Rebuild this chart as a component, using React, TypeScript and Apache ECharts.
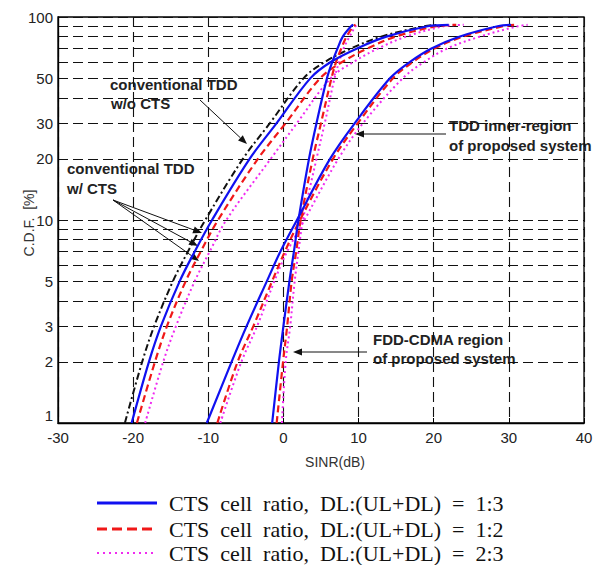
import { useEffect, useRef } from "react";
import * as echarts from "echarts";

// CDF levels (%) at which the SINR (dB) of every curve was read
const CDF_LEVELS = [1, 2, 3, 5, 7, 10, 20, 30, 50, 60, 70, 80, 90, 91.5];

// conventional TDD w/o CTS (black dash-dot)
const CONV_NO_CTS = [-21.1, -18.8, -17.2, -14.7, -12.7, -10.4, -5.4, -1.8, 2.7, 5.5, 9.0, 13.0, 18.7, 20.5];
// conventional TDD w/ CTS
const CONV_13 = [-20.2, -17.9, -16.3, -13.8, -11.8, -9.5, -4.5, -0.9, 3.6, 6.3, 9.8, 13.7, 19.2, 22.0];
const CONV_12 = [-19.5, -17.1, -15.5, -13.0, -11.0, -8.7, -3.4, 0.3, 4.9, 7.8, 11.2, 14.9, 20.3, 23.0];
const CONV_23 = [-18.4, -16.0, -14.3, -11.8, -9.8, -7.6, -1.7, 1.8, 6.3, 9.3, 12.6, 16.3, 21.3, 24.0];
// TDD inner-region of proposed system
const INNER_13 = [-10.2, -6.9, -4.9, -2.2, -0.4, 1.8, 6.2, 9.5, 14.2, 16.8, 19.7, 23.4, 28.5, 30.3];
const INNER_12 = [-8.8, -6.1, -4.0, -1.5, 0.2, 2.2, 6.6, 9.9, 14.6, 17.2, 20.1, 23.9, 29.2, 31.0];
const INNER_23 = [-8.4, -5.6, -3.5, -1.2, 0.5, 2.8, 7.3, 10.6, 15.9, 18.7, 21.8, 26.1, 31.2, 32.5];
// FDD-CDMA region of proposed system
const FDD_13 = [-1.5, -0.6, 0.0, 0.8, 1.4, 2.0, 3.4, 4.4, 5.8, 6.5, 7.2, 7.9, 9.0, 9.3];
const FDD_12 = [-0.9, -0.05, 0.5, 1.1, 1.7, 2.3, 3.9, 5.0, 6.4, 7.0, 7.7, 8.4, 9.3, 9.6];
const FDD_23 = [-0.2, 0.3, 0.9, 1.5, 2.0, 2.6, 4.4, 5.5, 6.8, 7.4, 8.0, 8.8, 9.6, 9.9];

const X_MIN = -30;
const X_MAX = 40;
const X_STEP = 10;
const Y_LABEL_VALUES = [1, 2, 3, 5, 10, 20, 30, 50, 100];
const Y_GRID_VALUES = [1, 2, 3, 4, 5, 6, 7, 8, 9, 10, 20, 30, 40, 50, 60, 70, 80, 90, 100];

const LEGEND_NAMES = [
  "CTS  cell  ratio,  DL:(UL+DL)  =  1:3",
  "CTS  cell  ratio,  DL:(UL+DL)  =  1:2",
  "CTS  cell  ratio,  DL:(UL+DL)  =  2:3",
];

const pairs = (xs: number[]) => xs.map((x, i) => [x, CDF_LEVELS[i]]);

const BLUE = "#1010f0";
const RED = "#f01818";
const MAGENTA = "#f02af0";
const SANS = '"Liberation Sans", Arial, sans-serif';
const SERIF = '"Liberation Serif", "Times New Roman", serif';

function arrow(x1: number, y1: number, x2: number, y2: number) {
  const ang = Math.atan2(y2 - y1, x2 - x1);
  const L = 9;
  const W = 3.5;
  const bx = x2 - L * Math.cos(ang);
  const by = y2 - L * Math.sin(ang);
  const px = -Math.sin(ang) * W;
  const py = Math.cos(ang) * W;
  return [
    { type: "line", shape: { x1, y1, x2: bx, y2: by }, style: { stroke: "#111", lineWidth: 1 }, silent: true },
    {
      type: "polygon",
      shape: { points: [[x2, y2], [bx + px, by + py], [bx - px, by - py]] },
      style: { fill: "#111" },
      silent: true,
    },
  ];
}

function label(text: string, x: number, y: number) {
  return {
    type: "text",
    x,
    y,
    silent: true,
    style: {
      text,
      fill: "#222",
      fontFamily: SANS,
      fontSize: 15,
      fontWeight: "bold",
      align: "left",
      verticalAlign: "middle",
    },
  };
}

export default function App() {
  const ref = useRef<HTMLDivElement>(null);

  useEffect(() => {
    if (!ref.current) return;
    const chart = echarts.init(ref.current, undefined, { renderer: "svg" });

    const styles = [
      { name: LEGEND_NAMES[0], color: BLUE, type: "solid" as any, width: 2.2, lw: 3, ltype: "solid" as any },
      { name: LEGEND_NAMES[1], color: RED, type: [7, 4] as any, width: 2.2, lw: 3, ltype: [10, 5] as any },
      { name: LEGEND_NAMES[2], color: MAGENTA, type: [2, 3] as any, width: 2, lw: 2, ltype: [2, 4] as any },
    ];
    const groups = [
      [CONV_13, CONV_12, CONV_23],
      [INNER_13, INNER_12, INNER_23],
      [FDD_13, FDD_12, FDD_23],
    ];

    const series: any[] = [
      {
        name: "conventional TDD w/o CTS",
        type: "line",
        data: pairs(CONV_NO_CTS),
        smooth: 0.35,
        symbol: "none",
        lineStyle: { color: "#111", width: 2, type: [7, 3, 2, 3] },
        z: 3,
      },
    ];
    groups.forEach((g) => {
      g.forEach((xs, k) => {
        const s = styles[k];
        series.push({
          name: s.name,
          type: "line",
          data: pairs(xs),
          smooth: 0.35,
          symbol: "none",
          itemStyle: { color: s.color },
          lineStyle: { color: s.color, width: s.width, type: s.type },
          z: 4 - k,
        });
      });
    });

    // legend drawn as graphic rows
    const legendItems: any[] = [];
    const rowY = [503, 529, 553];
    styles.forEach((s, i) => {
      legendItems.push({
        type: "line",
        silent: true,
        shape: { x1: 97, y1: rowY[i], x2: 157, y2: rowY[i] },
        style: { stroke: s.color, lineWidth: s.lw, lineDash: s.ltype === "solid" ? null : s.ltype },
      });
      legendItems.push({
        type: "text",
        silent: true,
        x: 169,
        y: rowY[i],
        style: {
          text: s.name,
          fill: "#111",
          fontFamily: SERIF,
          fontSize: 22,
          align: "left",
          verticalAlign: "middle",
        },
      });
    });

    const gridLine = { show: true, lineStyle: { color: "#111", width: 1.1, type: [10, 5] } };

    chart.setOption({
      animation: false,
      backgroundColor: "#fff",
      grid: {
        left: 58,
        right: 12,
        top: 17,
        bottom: 142,
        show: true,
        borderColor: "#000",
        borderWidth: 1.3,
        backgroundColor: "transparent",
      },
      xAxis: {
        type: "value",
        min: X_MIN,
        max: X_MAX,
        interval: X_STEP,
        axisLine: { show: true, onZero: false, lineStyle: { color: "#000", width: 1.3 } },
        axisTick: { show: true, inside: true, length: 5, lineStyle: { color: "#000" } },
        axisLabel: { fontFamily: SANS, fontSize: 15, color: "#222", margin: 7 },
        splitLine: gridLine,
      },
      yAxis: {
        type: "log",
        logBase: 10,
        min: 1,
        max: 100,
        axisLine: { show: true, onZero: false, lineStyle: { color: "#000", width: 1.3 } },
        axisTick: { show: false, customValues: Y_GRID_VALUES },
        axisLabel: {
          fontFamily: SANS,
          fontSize: 15,
          color: "#222",
          margin: 5,
          customValues: Y_LABEL_VALUES,
          verticalAlignMinLabel: "bottom",
        },
        splitLine: gridLine,
        minorTick: { show: false },
        minorSplitLine: { show: false },
      },
      graphic: [
        {
          type: "text",
          x: 29,
          y: 223,
          rotation: Math.PI / 2,
          silent: true,
          style: {
            text: "C.D.F.  [%]",
            fill: "#333",
            fontFamily: SANS,
            fontSize: 14,
            align: "center",
            verticalAlign: "middle",
          },
        },
        {
          type: "text",
          x: 335,
          y: 462,
          silent: true,
          style: {
            text: "SINR(dB)",
            fill: "#333",
            fontFamily: SANS,
            fontSize: 14,
            align: "center",
            verticalAlign: "middle",
          },
        },
        label("conventional TDD", 110, 84),
        label("w/o CTS", 111, 103),
        ...arrow(200, 100, 247, 144),
        label("conventional TDD", 67, 168),
        label("w/ CTS", 67, 188),
        ...arrow(113, 200, 202, 233),
        ...arrow(113, 200, 198, 246),
        ...arrow(113, 200, 199, 261),
        label("TDD inner-region", 449, 125),
        label("of proposed system", 449, 145),
        ...arrow(446, 134, 355, 134),
        label("FDD-CDMA region", 373, 339),
        label("of proposed system", 373, 358),
        ...arrow(367, 352, 293, 352),
        ...legendItems,
      ],
      series,
    });

    return () => chart.dispose();
  }, []);

  return <div ref={ref} style={{ position: "absolute", left: 0, top: 0, width: 596, height: 565 }} />;
}
